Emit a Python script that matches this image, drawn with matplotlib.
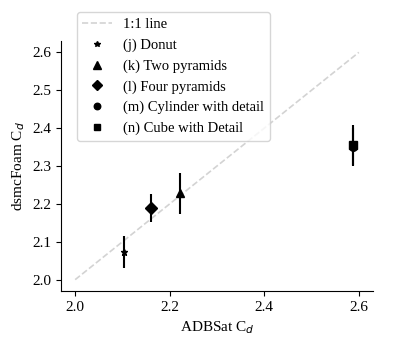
import matplotlib

matplotlib.use("Agg")

import matplotlib.pyplot as plt

plt.rcParams["font.family"] = ["Liberation Serif", "DejaVu Serif"]
plt.rcParams["font.size"] = 11

# values
labels = [
    "(j) Donut",
    "(k) Two pyramids",
    "(l) Four pyramids",
    "(m) Cylinder with detail",
    "(n) Cube with Detail",
]
markers = ["*", "^", "D", "o", "s"]
adbsat_cd = [2.103, 2.221, 2.161, 2.588, 2.588]
dsmc_cd = [2.073, 2.228, 2.189, 2.350, 2.355]
dsmc_err = [0.043, 0.054, 0.036, 0.050, 0.052]
ref_line = [2.0, 2.6]

fig = plt.figure(figsize=(4.15, 3.38), dpi=100)
ax = fig.add_axes([61 / 415, 1 - 291 / 338, 312 / 415, 250 / 338])

ax.plot(ref_line, ref_line, linestyle="--", color="lightgray", linewidth=1.2, label="1:1 line")
ax.errorbar(adbsat_cd, dsmc_cd, yerr=dsmc_err, fmt="none", ecolor="black", elinewidth=1.5)
sizes = [5, 6, 6, 5.5, 5.5]
for x, y, m, lab, s in zip(adbsat_cd, dsmc_cd, markers, labels, sizes):
    ax.plot(x, y, linestyle="none", marker=m, color="black", markersize=s, label=lab)

ax.spines["top"].set_visible(False)
ax.spines["right"].set_visible(False)
ax.set_xlabel("ADBSat C$_d$")
ax.set_ylabel("dsmcFoam C$_d$")
ax.legend(loc="upper left", bbox_to_anchor=(0.05, 1.115), borderaxespad=0,
          fontsize=10.5, labelspacing=0.5, markerscale=0.85)

fig.savefig("out.png", dpi=100)
